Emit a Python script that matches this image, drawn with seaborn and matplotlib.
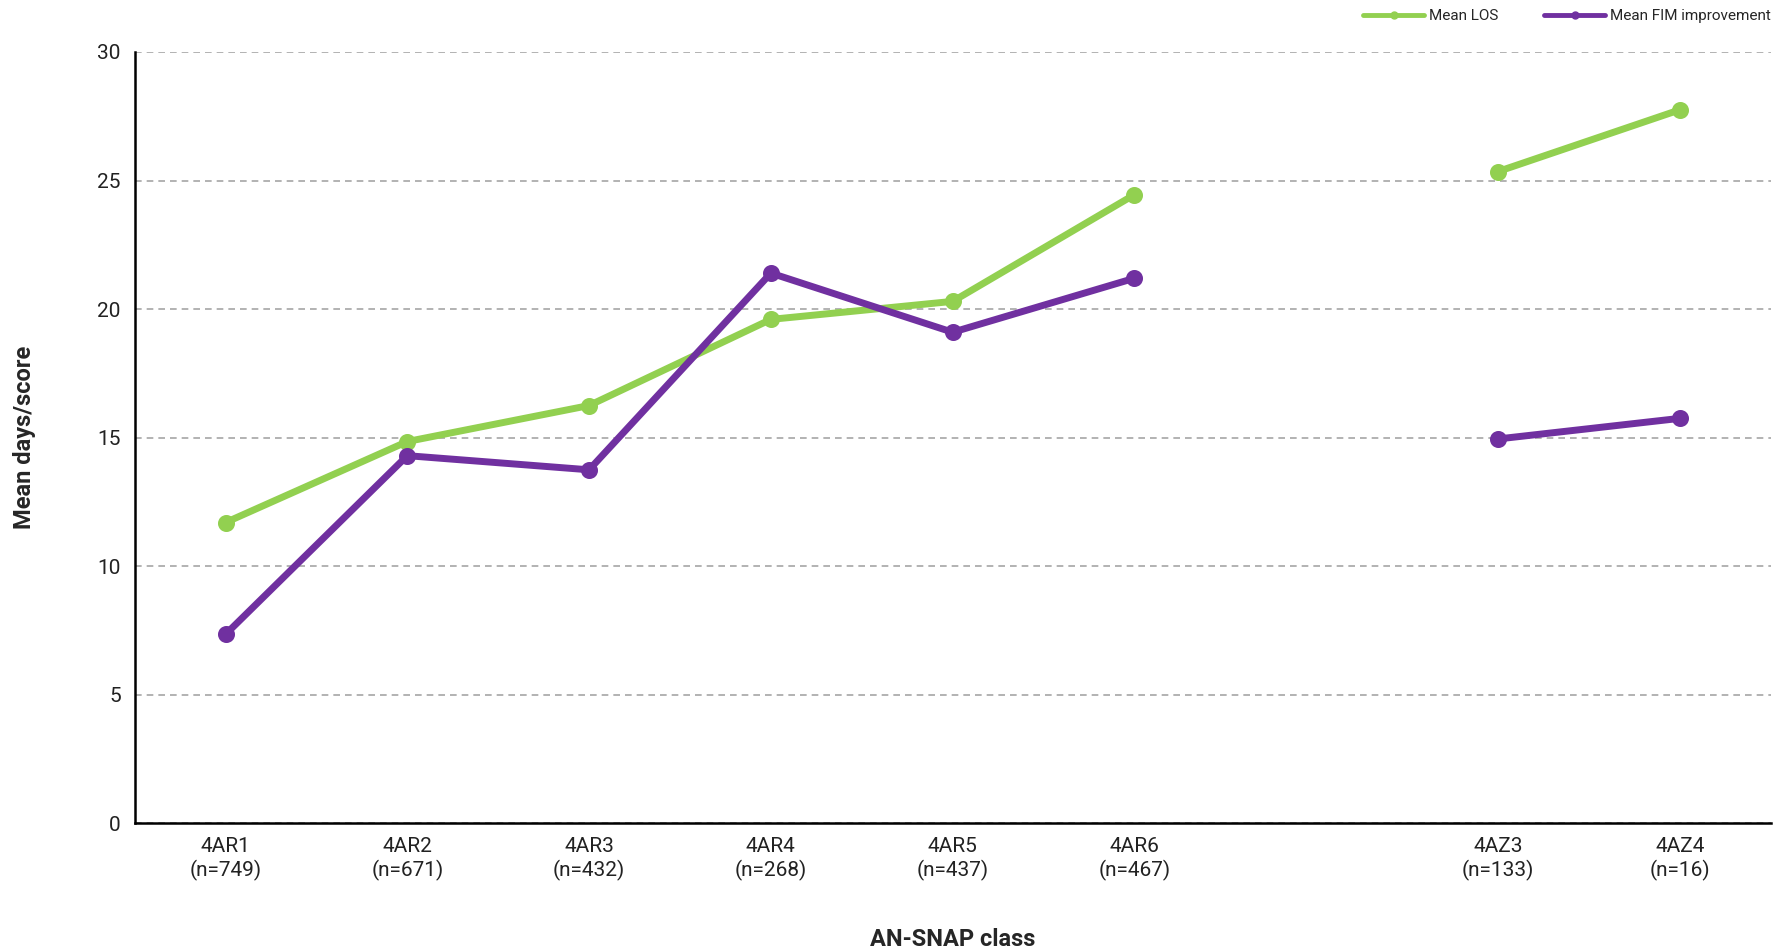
import matplotlib
matplotlib.use("Agg")
import matplotlib.pyplot as plt
from matplotlib.lines import Line2D
import seaborn as sns
import pandas as pd
from matplotlib import font_manager

sns.set_theme(style="white")
names = {f.name for f in font_manager.fontManager.ttflist}
fam = ['Liberation Sans Narrow', 'DejaVu Sans'] if 'Liberation Sans Narrow' in names else ['Roboto', 'DejaVu Sans']
plt.rcParams['font.family'] = fam

# Data
categories = ["4AR1\n(n=749)", "4AR2\n(n=671)", "4AR3\n(n=432)", "4AR4\n(n=268)",
              "4AR5\n(n=437)", "4AR6\n(n=467)", " ", "4AZ3\n(n=133)", "4AZ4\n(n=16)"]
ar_classes = ["4AR1\n(n=749)", "4AR2\n(n=671)", "4AR3\n(n=432)", "4AR4\n(n=268)",
              "4AR5\n(n=437)", "4AR6\n(n=467)"]
az_classes = ["4AZ3\n(n=133)", "4AZ4\n(n=16)"]
los_ar = [11.7, 14.85, 16.25, 19.6, 20.3, 24.45]
los_az = [25.35, 27.75]
fim_ar = [7.35, 14.3, 13.75, 21.4, 19.1, 21.2]
fim_az = [14.95, 15.75]

green = "#92D050"
purple = "#7030A0"

fig = plt.figure(figsize=(17.88, 9.5), dpi=100)
ax = fig.add_axes([0.0753, 0.1333, 0.915, 0.812])

for xs, ys, col in [(ar_classes, los_ar, green), (az_classes, los_az, green),
                    (ar_classes, fim_ar, purple), (az_classes, fim_az, purple)]:
    df = pd.DataFrame({"cls": xs, "val": ys})
    sns.pointplot(data=df, x="cls", y="val", order=categories, color=col,
                  markers="o", linewidth=5, markersize=8.5, ax=ax, errorbar=None)

ax.set_ylim(0, 30)
ax.set_yticks([0, 5, 10, 15, 20, 25, 30])
ax.set_xlim(-0.5, len(categories) - 0.5)
ax.yaxis.grid(True, linestyle=(0, (4, 3)), color="#a6a6a6", linewidth=1.2)
ax.xaxis.grid(False)
ax.set_axisbelow(True)
for s in ["top", "right"]:
    ax.spines[s].set_visible(False)
for s in ["left", "bottom"]:
    ax.spines[s].set_color("black")
    ax.spines[s].set_linewidth(1.8)
ax.tick_params(axis="both", length=0, labelsize=15, colors="#222222", pad=10)
ax.set_ylabel("Mean days/score", fontsize=17, fontweight="bold", labelpad=44)
ax.set_xlabel("AN-SNAP class", fontsize=17, fontweight="bold", labelpad=34)

handles = [Line2D([0], [0], color=green, lw=3.5, marker="o", markersize=5),
           Line2D([0], [0], color=purple, lw=3.5, marker="o", markersize=5)]
fig.legend(handles, ["Mean LOS", "Mean FIM improvement"], loc="upper right",
           bbox_to_anchor=(0.998, 1.005), ncol=2, frameon=False, fontsize=11,
           handlelength=4.0, columnspacing=3, handletextpad=0.3)

fig.savefig("out.png", dpi=100, facecolor="white")
